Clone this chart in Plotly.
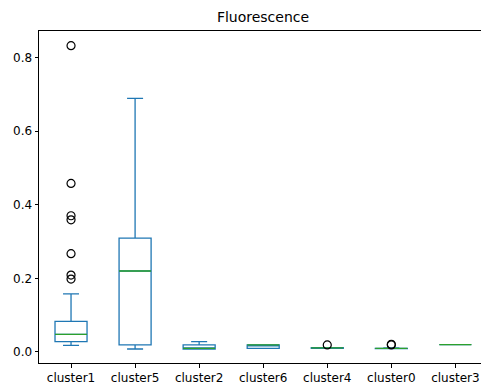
import plotly.graph_objects as go

categories = ["cluster1", "cluster5", "cluster2", "cluster6", "cluster4", "cluster0", "cluster3"]
lower_whisker = [0.018, 0.008, 0.008, 0.010, 0.010, 0.009, 0.020]
q1 = [0.028, 0.019, 0.008, 0.010, 0.010, 0.009, 0.020]
median = [0.048, 0.220, 0.010, 0.019, 0.011, 0.010, 0.020]
q3 = [0.083, 0.309, 0.019, 0.019, 0.012, 0.010, 0.020]
upper_whisker = [0.158, 0.689, 0.028, 0.019, 0.012, 0.011, 0.020]
outliers = {
    "cluster1": [0.198, 0.209, 0.267, 0.359, 0.370, 0.458, 0.832],
    "cluster4": [0.019],
    "cluster0": [0.019, 0.021],
}
yticks = [0.0, 0.2, 0.4, 0.6, 0.8]

BLUE = "#1f77b4"
GREEN = "#2ca02c"
positions = list(range(1, len(categories) + 1))

fig = go.Figure()
for i, cat in enumerate(categories):
    p = positions[i]
    fig.add_trace(go.Box(
        x=[p], q1=[q1[i]], median=[median[i]], q3=[q3[i]],
        lowerfence=[lower_whisker[i]], upperfence=[upper_whisker[i]],
        width=0.5, whiskerwidth=0.5, boxpoints=False,
        line=dict(color=BLUE, width=1.3), fillcolor="rgba(0,0,0,0)",
        showlegend=False, name=cat,
    ))
    fig.add_trace(go.Scatter(
        x=[p - 0.25, p + 0.25], y=[median[i], median[i]], mode="lines",
        line=dict(color=GREEN, width=1.3), showlegend=False, hoverinfo="skip",
    ))
    if cat in outliers:
        vals = outliers[cat]
        fig.add_trace(go.Scatter(
            x=[p] * len(vals), y=vals, mode="markers",
            marker=dict(symbol="circle-open", size=8, color="black", line=dict(width=1.2)),
            showlegend=False,
        ))

fig.update_layout(
    width=481, height=387,
    margin=dict(l=39, r=0, t=31, b=24),
    paper_bgcolor="white", plot_bgcolor="white",
    font=dict(family="DejaVu Sans", size=12, color="black"),
    title=dict(text="Fluorescence", x=263 / 481, xanchor="center",
               y=1 - 17 / 387, yanchor="middle", yref="container",
               font=dict(size=14, color="black")),
)
fig.update_xaxes(
    range=[0.5, 7.4], tickmode="array", tickvals=positions, ticktext=categories,
    showgrid=False, zeroline=False, showline=True, linecolor="black", linewidth=1,
    mirror=True, ticks="outside", ticklen=3.5, tickcolor="black", tickwidth=1,
)
fig.update_yaxes(
    range=[-0.030, 0.872], tickmode="array", tickvals=yticks,
    ticktext=[f"{v:.1f}" for v in yticks],
    showgrid=False, zeroline=False, showline=True, linecolor="black", linewidth=1,
    ticks="outside", ticklen=3.5, tickcolor="black", tickwidth=1,
)
fig.write_html("out.html")
